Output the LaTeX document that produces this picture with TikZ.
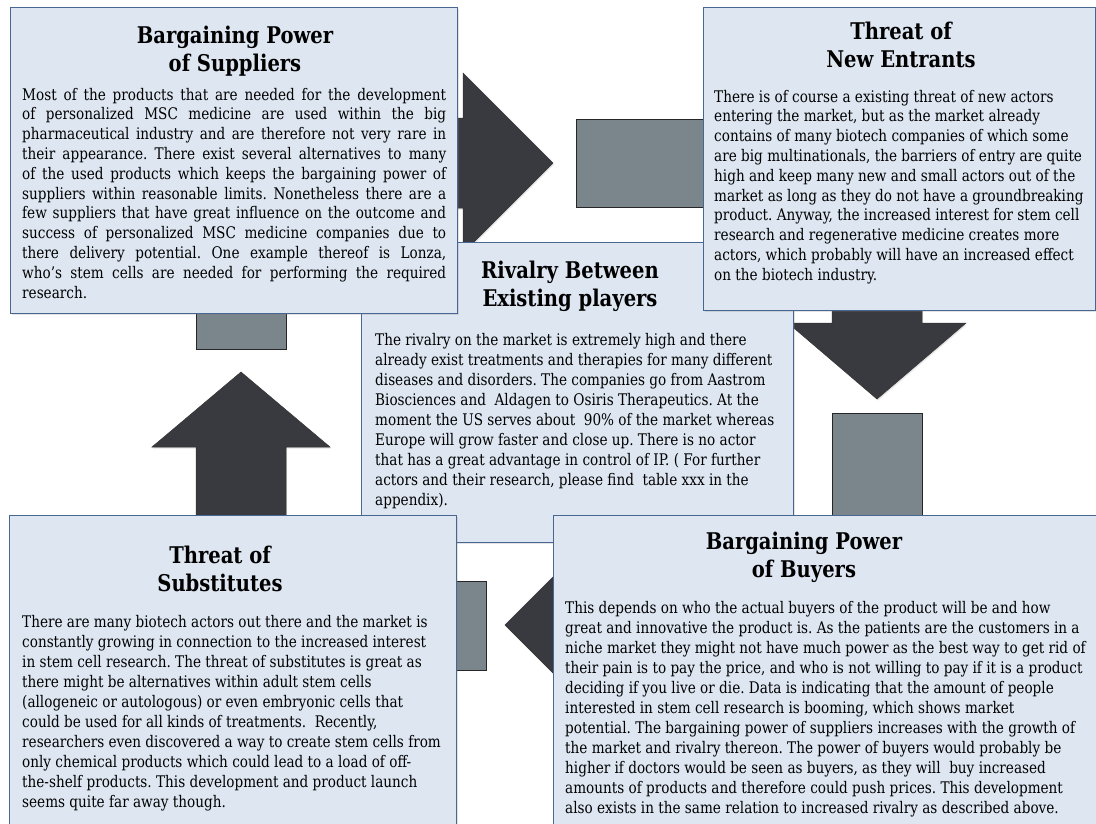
\documentclass[tikz,border=0pt]{standalone}
\usepackage{fontspec}
\setmainfont[FakeStretch=0.85]{DejaVu Serif}
\usetikzlibrary{shadows}

\definecolor{panelfill}{RGB}{221,230,241}
\definecolor{panelline}{RGB}{72,102,146}
\definecolor{arrowdark}{RGB}{57,58,63}
\definecolor{stubgray}{RGB}{122,133,140}

\newcommand{\headtext}[1]{\parbox[t]{420pt}{\centering #1}}
\newcommand{\bodytext}[1]{\parbox[t]{700pt}{\raggedright\frenchspacing #1}}
\newcommand{\jline}[1]{\makebox[424pt][s]{#1}}

\begin{document}
\frenchspacing
\begin{tikzpicture}[x=1pt,y=-1pt,
  panel/.style={draw=panelline, fill=panelfill, line width=1.1pt,
    inner sep=0pt, anchor=north west,
    drop shadow={shadow xshift=1.5pt, shadow yshift=-1.5pt, opacity=0.22}},
  blockarrow/.style={fill=arrowdark, draw=black!80, line width=0.5pt,
    drop shadow={shadow xshift=1pt, shadow yshift=-1.5pt, opacity=0.2}},
  stub/.style={fill=stubgray, draw=black!85, line width=0.9pt},
  head/.style={anchor=base, inner sep=0pt,
    font=\fontsize{23}{28.5}\selectfont\bfseries},
  body/.style={anchor=base west, inner sep=0pt},
  bodyA/.style={body, font=\fontsize{16}{19.8}\selectfont},
  bodyB/.style={body, font=\fontsize{16}{20.05}\selectfont},
]
\useasboundingbox (0,0) rectangle (1096,823);
\fill[white] (0,0) rectangle (1096,823);

% ---- block arrows and their grey stubs (drawn under the panels) ----
% suppliers -> new entrants
\draw[blockarrow] (400,118) -- (463,118) -- (463,73) -- (553,163)
  -- (463,253) -- (463,208) -- (400,208) -- cycle;
\draw[stub] (576,119) rectangle (740,207);
% new entrants -> buyers
\draw[blockarrow] (832,280) -- (832,323) -- (788,323) -- (877,399)
  -- (966,323) -- (922,323) -- (922,280) -- cycle;
\draw[stub] (832,413) rectangle (922,560);
% buyers -> substitutes
\draw[blockarrow] (650,580) -- (595,580) -- (595,535) -- (505,625)
  -- (595,715) -- (595,670) -- (650,670) -- cycle;
\draw[stub] (420,581) rectangle (486,670);
% substitutes -> suppliers
\draw[blockarrow] (196,560) -- (196,447) -- (152,447) -- (241,372)
  -- (330,447) -- (286,447) -- (286,560) -- cycle;
\draw[stub] (196,280) rectangle (286,349);

% ---- panels ----
\node[panel, minimum width=432pt, minimum height=300pt] (riv) at (361,242) {};
\node[panel, minimum width=447pt, minimum height=306pt] (sup) at (10,7) {};
\node[panel, minimum width=392pt, minimum height=303pt] (ent) at (703,7) {};
\node[panel, minimum width=447pt, minimum height=330pt] (sub) at (9,515) {};
\node[panel, minimum width=560pt, minimum height=330pt] (buy) at (553,515) {};

% ---- Rivalry Between Existing players ----
\node[head] (rivT) at (570,278) {\headtext{Rivalry Between\\Existing players}};
\node[bodyB] (rivB) at (375,345) {\bodytext{%
The rivalry on the market is extremely high and there\\
already exist treatments and therapies for many different\\
diseases and disorders. The companies go from Aastrom\\
Biosciences and \ Aldagen to Osiris Therapeutics. At the\\
moment the US serves about \ 90\% of the market whereas\\
Europe will grow faster and close up. There is no actor\\
that has a great advantage in control of IP. ( For further\\
actors and their research, please find \ table xxx in the\\
appendix).}};

% ---- Bargaining Power of Suppliers ----
\node[head] (supT) at (235,43) {\headtext{Bargaining Power\\of Suppliers}};
\node[bodyA] (supB) at (22,100) {\bodytext{%
\jline{Most of the products that are needed for the development}\\
\jline{of personalized MSC medicine are used within the big}\\
\jline{pharmaceutical industry and are therefore not very rare in}\\
\jline{their appearance. There exist several alternatives to many}\\
\jline{of the used products which keeps the bargaining power of}\\
\jline{suppliers within reasonable limits. Nonetheless there are a}\\
\jline{few suppliers that have great influence on the outcome and}\\
\jline{success of personalized MSC medicine companies due to}\\
\jline{there delivery potential. One example thereof is Lonza,}\\
\jline{who’s stem cells are needed for performing the required}\\
research.}};

% ---- Threat of New Entrants ----
\node[head] (entT) at (901,39) {\headtext{Threat of\\New Entrants}};
\node[bodyA] (entB) at (714,102) {\bodytext{%
There is of course a existing threat of new actors\\
entering the market, but as the market already\\
contains of many biotech companies of which some\\
are big multinationals, the barriers of entry are quite\\
high and keep many new and small actors out of the\\
market as long as they do not have a groundbreaking\\
product. Anyway, the increased interest for stem cell\\
research and regenerative medicine creates more\\
actors, which probably will have an increased effect\\
on the biotech industry.}};

% ---- Threat of Substitutes ----
\node[head] (subT) at (220,563) {\headtext{Threat of\\Substitutes}};
\node[bodyB] (subB) at (22,627) {\bodytext{%
There are many biotech actors out there and the market is\\
constantly growing in connection to the increased interest\\
in stem cell research. The threat of substitutes is great as\\
there might be alternatives within adult stem cells\\
(allogeneic or autologous) or even embryonic cells that\\
could be used for all kinds of treatments. \ Recently,\\
researchers even discovered a way to create stem cells from\\
only chemical products which could lead to a load of off-\\
the-shelf products. This development and product launch\\
seems quite far away though.}};

% ---- Bargaining Power of Buyers ----
\node[head] (buyT) at (804,549) {\headtext{Bargaining Power\\of Buyers}};
\node[bodyB] (buyB) at (565,613) {\bodytext{%
This depends on who the actual buyers of the product will be and how\\
great and innovative the product is. As the patients are the customers in a\\
niche market they might not have much power as the best way to get rid of\\
their pain is to pay the price, and who is not willing to pay if it is a product\\
deciding if you live or die. Data is indicating that the amount of people\\
interested in stem cell research is booming, which shows market\\
potential. The bargaining power of suppliers increases with the growth of\\
the market and rivalry thereon. The power of buyers would probably be\\
higher if doctors would be seen as buyers, as they will \ buy increased\\
amounts of products and therefore could push prices. This development\\
also exists in the same relation to increased rivalry as described above.}};
\end{tikzpicture}
\end{document}
